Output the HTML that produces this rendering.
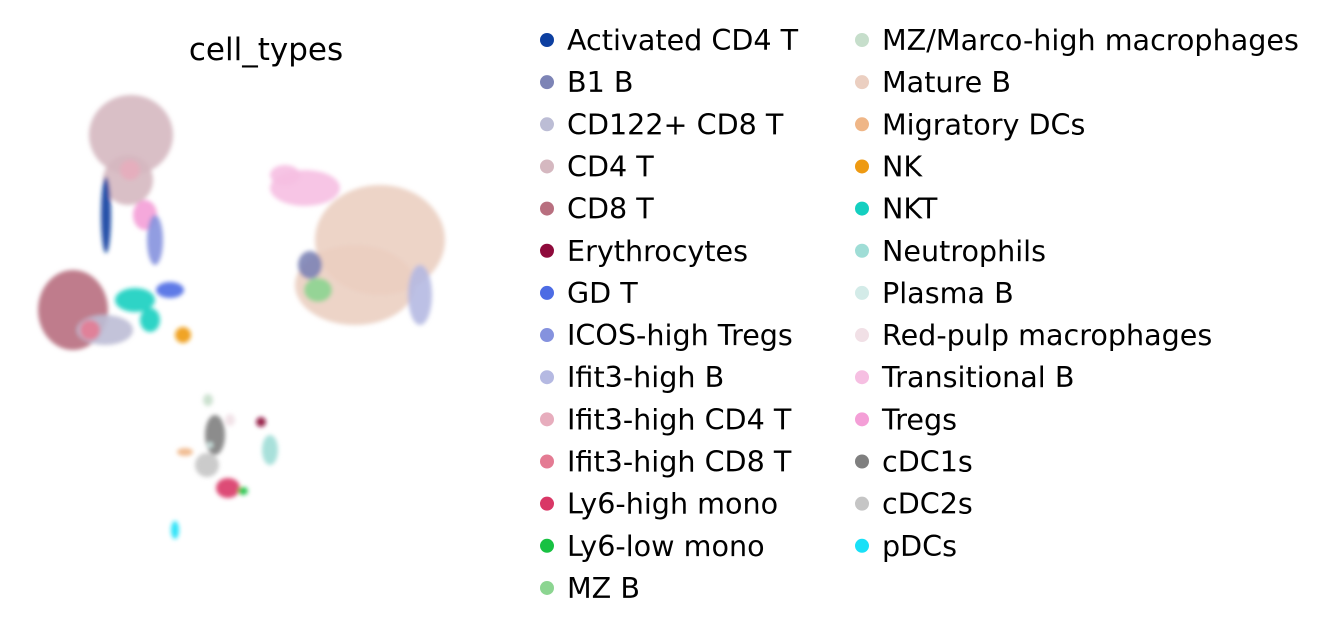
<!DOCTYPE html>
<html><head><meta charset="utf-8">
<style>
body{margin:0;background:#fff;width:1326px;height:632px;overflow:hidden;font-family:"DejaVu Sans","Liberation Sans",sans-serif;}
svg{position:absolute;left:0;top:0}
</style></head>
<body>
<svg id="chart" width="1326" height="632">
<defs><filter id="blur" x="-50%" y="-50%" width="200%" height="200%"><feGaussianBlur stdDeviation="2"/></filter></defs>
<text x="266" y="60" font-size="31" text-anchor="middle" fill="#000" font-family="DejaVu Sans, sans-serif">cell_types</text>
<g id="plot" filter="url(#blur)"></g>
<g id="legend"></g>
</svg>
<script>
const categories=["Activated CD4 T","B1 B","CD122+ CD8 T","CD4 T","CD8 T","Erythrocytes","GD T","ICOS-high Tregs","Ifit3-high B","Ifit3-high CD4 T","Ifit3-high CD8 T","Ly6-high mono","Ly6-low mono","MZ B","MZ/Marco-high macrophages","Mature B","Migratory DCs","NK","NKT","Neutrophils","Plasma B","Red-pulp macrophages","Transitional B","Tregs","cDC1s","cDC2s","pDCs"];
const colors=["#0d3fa0","#7d84b6","#bcbdd5","#d5b8c0","#b86f7f","#8e0a3b","#4d6ce4","#8592de","#b5b9e2","#e7adbd","#e47b93","#d93766","#18c142","#8cd591","#c6decb","#ebcfc1","#efb687","#ee9a12","#14cfc0","#9fddd6","#d3ebe8","#f1e0e6","#f6bfe2","#f49fd7","#7f7f7f","#c5c5c5","#19e0f7"];
// cluster blobs (UMAP units); a category may appear more than once
const clusterCat=[3,3,4,2,10,0,9,23,7,18,18,6,17,22,22,15,15,8,1,13,19,24,25,11,12,16,26,5,14,21,20];
const clusterX=[13.1,12.8,7.3,10.5,9.0,10.6,13.0,14.5,15.5,13.5,15.0,17.0,18.3,30.5,28.5,38.0,35.5,42.0,31.0,31.8,27.0,21.5,20.7,22.8,24.3,18.5,17.5,26.1,20.8,23.0,21.0];
const clusterY=[13.5,18.0,31.0,33.0,33.0,21.5,17.0,21.5,24.0,30.0,32.0,29.0,33.5,18.8,17.5,24.0,28.5,29.5,26.5,29.0,45.0,43.5,46.5,48.8,49.1,45.2,53.0,42.2,40.0,42.0,44.5];
const clusterRx=[4.2,2.5,3.5,2.8,1.0,0.5,1.0,1.2,0.8,2.0,1.0,1.4,0.8,3.5,1.5,6.5,6.0,1.2,1.2,1.4,0.8,1.0,1.2,1.2,0.5,0.8,0.4,0.5,0.5,0.5,0.3];
const clusterRy=[4.0,2.5,4.0,1.5,1.0,3.8,1.0,1.5,2.5,1.2,1.2,0.8,0.8,1.8,1.0,5.5,4.0,3.0,1.4,1.2,1.5,2.0,1.2,1.0,0.4,0.4,0.9,0.5,0.6,0.6,0.3];
const xDomain=[0,50], yDomain=[0,60];
const xs=v=>(v-xDomain[0])/(xDomain[1]-xDomain[0])*500;
const ys=v=>(v-yDomain[0])/(yDomain[1]-yDomain[0])*600;
const NS="http://www.w3.org/2000/svg";
const plot=document.getElementById('plot');
clusterCat.forEach((c,i)=>{
  const e=document.createElementNS(NS,'ellipse');
  e.setAttribute('cx',xs(clusterX[i]));e.setAttribute('cy',ys(clusterY[i]));
  e.setAttribute('rx',xs(clusterRx[i]));e.setAttribute('ry',ys(clusterRy[i]));
  e.setAttribute('fill',colors[c]);e.setAttribute('opacity','0.9');
  
  
  plot.appendChild(e);
});
const leg=document.getElementById('legend');
categories.forEach((name,i)=>{
  const col=i<14?0:1, row=i<14?i:i-14;
  const x=col?862:547, y=40+row*42.15;
  const g=document.createElementNS(NS,'g');
  
  
  const c=document.createElementNS(NS,'circle');
  c.setAttribute('cx',x);c.setAttribute('cy',y);c.setAttribute('r',7);c.setAttribute('fill',colors[i]);
  const t=document.createElementNS(NS,'text');
  t.setAttribute('x',x+20);t.setAttribute('y',y+10);t.setAttribute('font-size','28.6');
  t.setAttribute('font-family','DejaVu Sans, sans-serif');
  t.textContent=name;
  g.appendChild(c);g.appendChild(t);leg.appendChild(g);
});
</script>
</body></html>
